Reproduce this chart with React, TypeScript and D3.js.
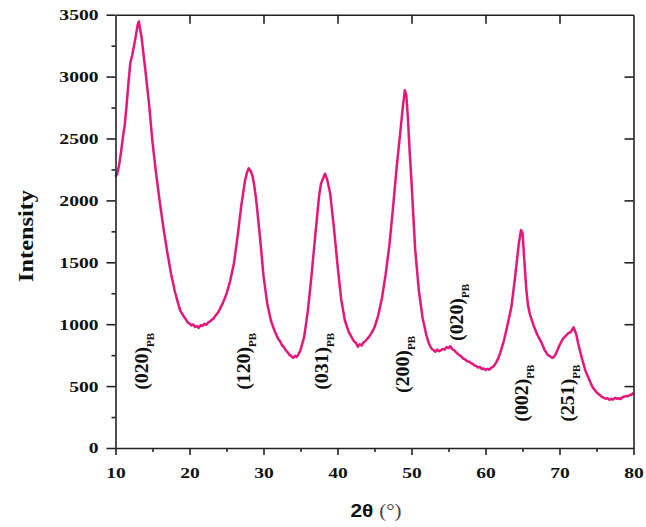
import React, { useRef, useEffect } from 'react';
import * as d3 from 'd3';

// diffraction pattern
const twoTheta = [
  10.0, 10.25, 10.5, 10.75, 11.0, 11.25, 11.5, 11.75, 12.0, 12.25, 12.5, 12.75, 13.0, 13.15, 13.3, 13.5, 13.75, 14.0, 14.5, 15.0,
  15.5, 16.0, 16.5, 17.0, 17.5, 18.0, 18.5, 18.75, 19.0, 19.25, 19.5, 19.75, 20.0, 20.25, 20.5, 20.75, 21.0, 21.25, 21.5, 21.75,
  22.0, 22.25, 22.5, 22.75, 23.0, 23.25, 23.5, 23.75, 24.0, 24.5, 25.0, 25.5, 26.0, 26.5, 27.0, 27.5, 27.75, 28.0, 28.25, 28.5,
  28.75, 29.0, 29.5, 30.0, 30.5, 31.0, 31.5, 32.0, 32.25, 32.5, 32.75, 33.0, 33.25, 33.5, 33.75, 34.0, 34.25, 34.5, 34.75, 35.0,
  35.5, 36.0, 36.5, 37.0, 37.5, 37.75, 38.0, 38.3, 38.6, 39.0, 39.5, 40.0, 40.5, 41.0, 41.5, 42.0, 42.25, 42.5, 42.75, 43.0,
  43.25, 43.5, 43.75, 44.0, 44.25, 44.5, 44.75, 45.0, 45.5, 46.0, 46.5, 47.0, 47.5, 48.0, 48.5, 48.8, 49.1, 49.3, 49.5, 49.75,
  50.0, 50.5, 51.0, 51.5, 52.0, 52.25, 52.5, 52.75, 53.0, 53.25, 53.5, 53.75, 54.0, 54.25, 54.5, 54.75, 55.0, 55.25, 55.5, 55.75,
  56.0, 56.25, 56.5, 56.75, 57.0, 57.25, 57.5, 57.75, 58.0, 58.25, 58.5, 58.75, 59.0, 59.25, 59.5, 59.75, 60.0, 60.25, 60.5, 60.75,
  61.0, 61.25, 61.5, 61.75, 62.0, 62.5, 63.0, 63.5, 64.0, 64.5, 64.8, 65.0, 65.2, 65.5, 65.75, 66.0, 66.5, 67.0, 67.5, 67.75,
  68.0, 68.25, 68.5, 68.75, 69.0, 69.25, 69.5, 70.0, 70.5, 70.75, 71.0, 71.25, 71.5, 71.75, 71.9, 72.1, 72.3, 72.5, 73.0, 73.5,
  74.0, 74.25, 74.5, 74.75, 75.0, 75.25, 75.5, 75.75, 76.0, 76.25, 76.5, 76.75, 77.0, 77.25, 77.5, 77.75, 78.0, 78.25, 78.5, 78.75,
  79.0, 79.25, 79.5, 79.75, 80.0,
];
const intensity = [
  2190, 2220, 2290, 2390, 2510, 2610, 2770, 2950, 3110, 3170, 3250, 3330, 3420, 3445, 3390, 3330, 3200, 3070, 2800, 2470,
  2210, 1980, 1770, 1580, 1410, 1270, 1160, 1110, 1085, 1060, 1040, 1015, 1005, 990, 998, 978, 985, 970, 992, 985,
  1003, 995, 1012, 1020, 1035, 1045, 1068, 1085, 1110, 1170, 1245, 1350, 1490, 1710, 1960, 2160, 2220, 2260, 2240, 2200,
  2120, 2010, 1720, 1390, 1170, 1030, 945, 880, 860, 830, 815, 790, 775, 752, 742, 728, 745, 736, 760, 790,
  900, 1110, 1400, 1720, 2030, 2130, 2170, 2215, 2170, 2060, 1790, 1480, 1200, 1030, 940, 885, 860, 848, 818, 838,
  828, 852, 862, 880, 898, 920, 945, 975, 1070, 1210, 1400, 1630, 1940, 2270, 2560, 2740, 2890, 2850, 2680, 2400,
  2150, 1600, 1270, 1050, 915, 860, 825, 800, 790, 778, 795, 782, 790, 800, 795, 815, 808, 822, 800, 790,
  775, 760, 748, 738, 722, 715, 700, 698, 688, 680, 668, 662, 650, 655, 638, 642, 630, 640, 632, 648,
  655, 672, 698, 728, 770, 870, 1000, 1140, 1380, 1650, 1760, 1740, 1560, 1290, 1150, 1080, 990, 915, 860, 825,
  790, 768, 748, 740, 728, 736, 760, 830, 885, 900, 915, 930, 935, 960, 975, 945, 910, 850, 730, 625,
  555, 520, 488, 470, 450, 438, 425, 412, 405, 398, 402, 390, 396, 392, 405, 398, 402, 396, 410, 415,
  420, 418, 428, 432, 445,
];

// reflection labels: Miller index, anchor 2θ, anchor intensity (start of the rotated text)
const peakNames = ['(020)', '(120)', '(031)', '(200)', '(020)', '(002)', '(251)'];
const peakTheta = [14.4, 28.2, 38.7, 49.6, 56.9, 65.7, 72.0];
const peakLevel = [470, 470, 470, 445, 865, 213, 213];

const xTicks = [10, 20, 30, 40, 50, 60, 70, 80];
const xMinor = [15, 25, 35, 45, 55, 65, 75];
const yTicks = [0, 500, 1000, 1500, 2000, 2500, 3000, 3500];
const yMinor = [250, 750, 1250, 1750, 2250, 2750, 3250];

const App = () => {
  const svgRef = useRef(null);

  useEffect(() => {
    const width = 646;
    const height = 527;
    const margin = { top: 14.7, right: 12, bottom: 79, left: 115.5 };
    const font = '"Liberation Serif", "Times New Roman", serif';
    const lineColor = '#e6177a';
    const axisColor = '#222';

    const svg = d3.select(svgRef.current);
    svg.selectAll('*').remove();
    svg.attr('width', width).attr('height', height);

    const x = d3.scaleLinear().domain([10, 80]).range([margin.left, width - margin.right - 0.5]);
    const y = d3.scaleLinear().domain([0, 3500]).range([height - margin.bottom, margin.top]);

    const styleAxis = g => {
      g.selectAll('path').attr('stroke', axisColor).attr('stroke-width', 1.6);
      g.selectAll('line').attr('stroke', axisColor).attr('stroke-width', 1.6);
    };

    // curve first, axes drawn on top
    const points = twoTheta.map((t, i) => [t, intensity[i]]);
    const line = d3
      .line()
      .x(d => x(d[0]))
      .y(d => y(d[1]))
      .curve(d3.curveLinear);

    svg
      .append('path')
      .datum(points)
      .attr('d', line)
      .attr('fill', 'none')
      .attr('stroke', lineColor)
      .attr('stroke-width', 2.5)
      .attr('stroke-linejoin', 'round');

    // left axis
    const left = svg
      .append('g')
      .attr('transform', `translate(${margin.left},0)`)
      .call(d3.axisLeft(y).tickValues(yTicks).tickFormat(d3.format('d')).tickSize(9).tickSizeOuter(0));
    left
      .selectAll('text')
      .attr('font-family', font)
      .attr('font-weight', 'bold')
      .attr('font-size', 14.5)
      .attr('fill', '#111')
      .attr('x', -17 / 1.35)
      .attr('dy', '0.34em')
      .attr('transform', 'scale(1.35,1)');
    svg
      .append('g')
      .attr('transform', `translate(${margin.left},0)`)
      .call(d3.axisLeft(y).tickValues(yMinor).tickSize(4).tickFormat(() => ''))
      .call(g => g.select('.domain').remove())
      .call(styleAxis);
    left.call(styleAxis);

    // bottom axis
    const bottom = svg
      .append('g')
      .attr('transform', `translate(0,${height - margin.bottom})`)
      .call(d3.axisBottom(x).tickValues(xTicks).tickFormat(d3.format('d')).tickSize(7).tickSizeOuter(0));
    bottom
      .selectAll('text')
      .attr('font-family', font)
      .attr('font-weight', 'bold')
      .attr('font-size', 14.5)
      .attr('fill', '#111')
      .attr('y', 30)
      .attr('dy', 0)
      .attr('transform', 'scale(1.35,1)');
    svg
      .append('g')
      .attr('transform', `translate(0,${height - margin.bottom})`)
      .call(d3.axisBottom(x).tickValues(xMinor).tickSize(4).tickFormat(() => ''))
      .call(g => g.select('.domain').remove())
      .call(styleAxis);
    bottom.call(styleAxis);

    // top and right frame with inward ticks
    svg
      .append('g')
      .attr('transform', `translate(0,${margin.top})`)
      .call(d3.axisTop(x).tickValues(xTicks.slice(1, -1)).tickSize(-9).tickSizeOuter(0).tickFormat(() => ''))
      .call(styleAxis);
    svg
      .append('g')
      .attr('transform', `translate(${width - margin.right - 0.5},0)`)
      .call(d3.axisRight(y).tickValues(yTicks.slice(1, -1)).tickSize(-9).tickSizeOuter(0).tickFormat(() => ''))
      .call(styleAxis);

    // axis titles
    svg
      .append('text')
      .attr('transform', `translate(33,236) rotate(-90) scale(1.16,0.95)`)
      .attr('text-anchor', 'middle')
      .attr('font-family', font)
      .attr('font-weight', 'bold')
      .attr('font-size', 21)
      .attr('fill', '#111')
      .text('Intensity');

    const xTitle = svg
      .append('text')
      .attr('transform', `translate(376,517) scale(1.1,1)`)
      .attr('text-anchor', 'middle')
      .attr('font-family', font)
      .attr('font-size', 19)
      .attr('fill', '#111');
    xTitle
      .append('tspan')
      .attr('font-family', '"Liberation Sans", Arial, sans-serif')
      .attr('font-weight', 'bold')
      .text('2θ ');
    xTitle.append('tspan').attr('fill', '#444').text('(°)');

    // peak labels
    peakNames.forEach((name, i) => {
      const t = svg
        .append('text')
        .attr('transform', `translate(${x(peakTheta[i])},${y(peakLevel[i])}) rotate(-90) scale(1.1,1)`)
        .attr('font-family', font)
        .attr('font-weight', 'bold')
        .attr('font-size', 18)
        .attr('fill', '#111');
      t.append('tspan').text(name);
      t.append('tspan').attr('font-size', 10).attr('dy', 6).text('PB');
    });
  }, []);

  return <svg ref={svgRef} style={{ position: 'absolute', left: 0, top: 0 }}></svg>;
};

export default App;
